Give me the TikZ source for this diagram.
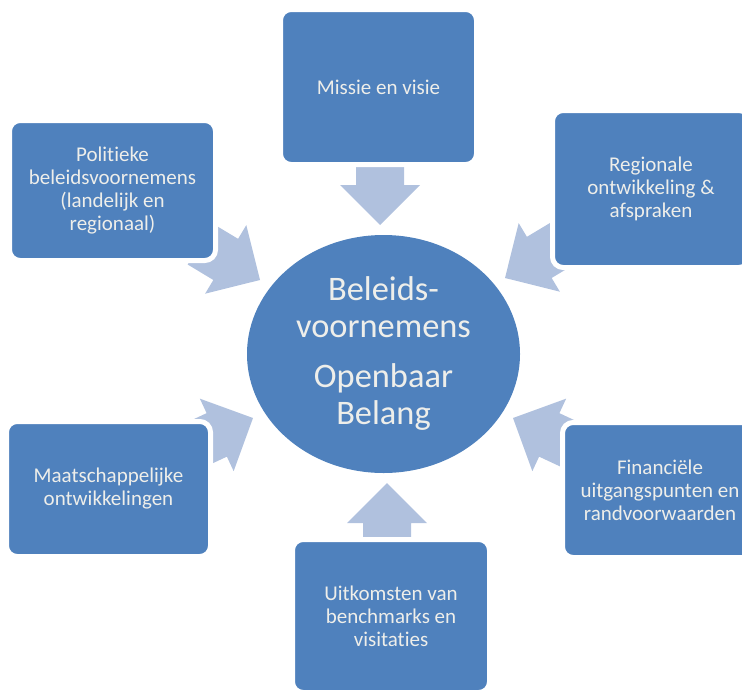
\documentclass[tikz,border=0pt]{standalone}
\usepackage{fontspec}
\setmainfont{Carlito}[Ligatures=NoCommon]
\usetikzlibrary{shapes.geometric}
\definecolor{boxblue}{HTML}{4F81BD}
\definecolor{arrowblue}{HTML}{B0C1DE}
\definecolor{lighttext}{HTML}{EEEEEA}

\tikzset{
  infobox/.style={rectangle,rounded corners=8pt,fill=boxblue,draw=white,line width=3.75pt,
    inner sep=0pt,align=center,text=lighttext,font=\fontsize{15.75}{17.25}\selectfont},
  kernel/.style={ellipse,fill=boxblue,inner sep=0pt,align=center,text=lighttext,
    font=\fontsize{25.8}{27.75}\selectfont}
}
% block arrow: tip, angle, length
\newcommand{\blockarrow}[3]{%
  \fill[arrowblue,shift={(#1)},rotate=#2] (0,0) -- (-40,40) -- (-40,24) -- (-#3,24)
    -- (-#3,-24) -- (-40,-24) -- (-40,-40) -- cycle;}

\begin{document}
\begin{tikzpicture}[x=0.75pt,y=0.75pt]
\useasboundingbox (0,0) rectangle (742,-689);

\coordinate (tipMissie) at (380,-225);
\coordinate (tipPolitiek) at (260,-280);
\coordinate (tipRegio) at (505,-278);
\coordinate (tipMaatsch) at (253,-418);
\coordinate (tipFinance) at (513,-418);
\coordinate (tipUitkomst) at (387,-483);

\blockarrow{tipMissie}{-90}{60}
\blockarrow{tipPolitiek}{-31}{70}
\blockarrow{tipRegio}{-149}{70}
\blockarrow{tipMaatsch}{25}{70}
\blockarrow{tipFinance}{155}{70}
\blockarrow{tipUitkomst}{90}{62}

\node[infobox,minimum width=147pt,minimum height=116.25pt] (missie) at (378.5,-87) {Missie en visie};
\node[infobox,minimum width=147.75pt,minimum height=117.75pt] (regio) at (651,-189) {Regionale\\ontwikkeling \&\\afspraken};
\node[infobox,minimum width=154.5pt,minimum height=105pt] (politiek) at (112.5,-190.5) {Politieke\\beleidsvoornemens\\(landelijk en\\regionaal)};
\node[infobox,minimum width=153pt,minimum height=101.25pt] (maatsch) at (108.5,-489) {Maatschappelijke\\ontwikkelingen};
\node[infobox,minimum width=146.25pt,minimum height=101.25pt] (finance) at (660,-490) {Financiële\\uitgangspunten en\\randvoorwaarden};
\node[infobox,minimum width=147.75pt,minimum height=114.75pt] (uitkomst) at (391,-616) {Uitkomsten van\\benchmarks en\\visitaties};

\node[kernel,minimum width=204.75pt,minimum height=178.5pt] (kern) at (383.5,-354) {Beleids-\\voornemens\\[9.75pt]Openbaar\\Belang};
\end{tikzpicture}
\end{document}
